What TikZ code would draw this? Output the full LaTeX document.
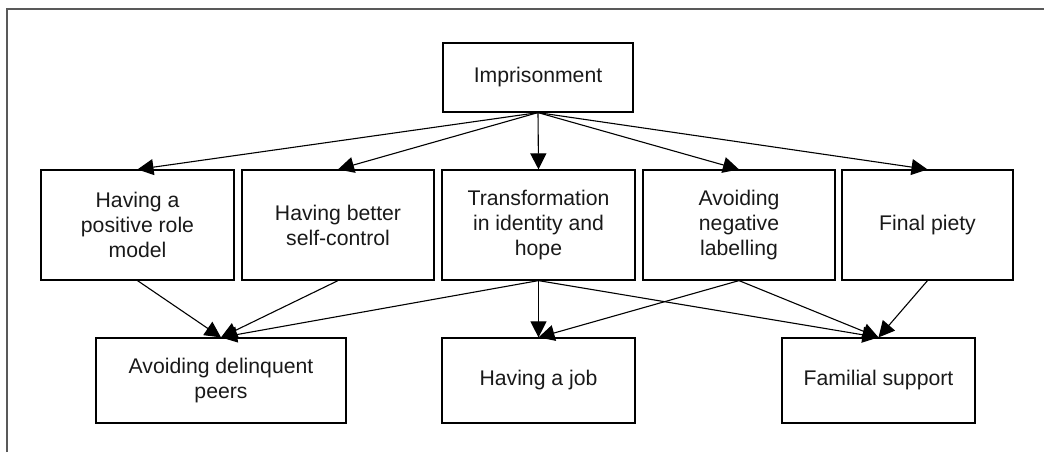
\documentclass[tikz,border=0pt]{standalone}
\usepackage{fontspec}
\setmainfont{Liberation Sans}
\usetikzlibrary{arrows.meta}

\tikzset{
  box/.style={draw, line width=0.6pt, inner sep=0pt, align=center,
              font=\fontsize{10.6}{12.5}\selectfont, text=black!90},
  link/.style={line width=0.55pt, -{Triangle[length=8pt,width=8pt]}}
}

\begin{document}
\begin{tikzpicture}[x=0.5pt, y=-0.5pt]
  \useasboundingbox (0,0) rectangle (1044,452);
  \draw[black!65, line width=1pt] (7,452) -- (7,9) -- (1044,9);

  % top
  \node[box, minimum width=95pt, minimum height=34.5pt] (imp) at (538,77.5) {Imprisonment};

  % middle row
  \node[box, minimum width=96.5pt, minimum height=55pt] (role) at (137.5,225) {Having a\\positive role\\model};
  \node[box, minimum width=96pt, minimum height=55pt] (self) at (338,225) {Having better\\self-control};
  \node[box, minimum width=96.5pt, minimum height=55pt] (ident) at (538.5,225) {Transformation\\in identity and\\hope};
  \node[box, minimum width=96pt, minimum height=55pt] (label) at (739,225) {Avoiding\\negative\\labelling};
  \node[box, minimum width=85.5pt, minimum height=55pt] (piety) at (927.5,225) {Final piety};

  % bottom row
  \node[box, minimum width=125pt, minimum height=42.5pt] (peers) at (221,380.5) {Avoiding delinquent\\peers};
  \node[box, minimum width=96.5pt, minimum height=42.5pt] (job) at (538.5,380.5) {Having a job};
  \node[box, minimum width=96.5pt, minimum height=42.5pt] (family) at (878.5,380.5) {Familial support};

  \foreach \t in {role,self,ident,label,piety}
    \draw[link] (imp.south) -- (\t.north);

  \draw[link] (role.south) -- (peers.north);
  \draw[link] (self.south) -- (peers.north);
  \draw[link] (ident.south) -- (peers.north);
  \draw[link] (ident.south) -- (job.north);
  \draw[link] (ident.south) -- (family.north);
  \draw[link] (label.south) -- (job.north);
  \draw[link] (label.south) -- (family.north);
  \draw[link] (piety.south) -- (family.north);
\end{tikzpicture}
\end{document}
